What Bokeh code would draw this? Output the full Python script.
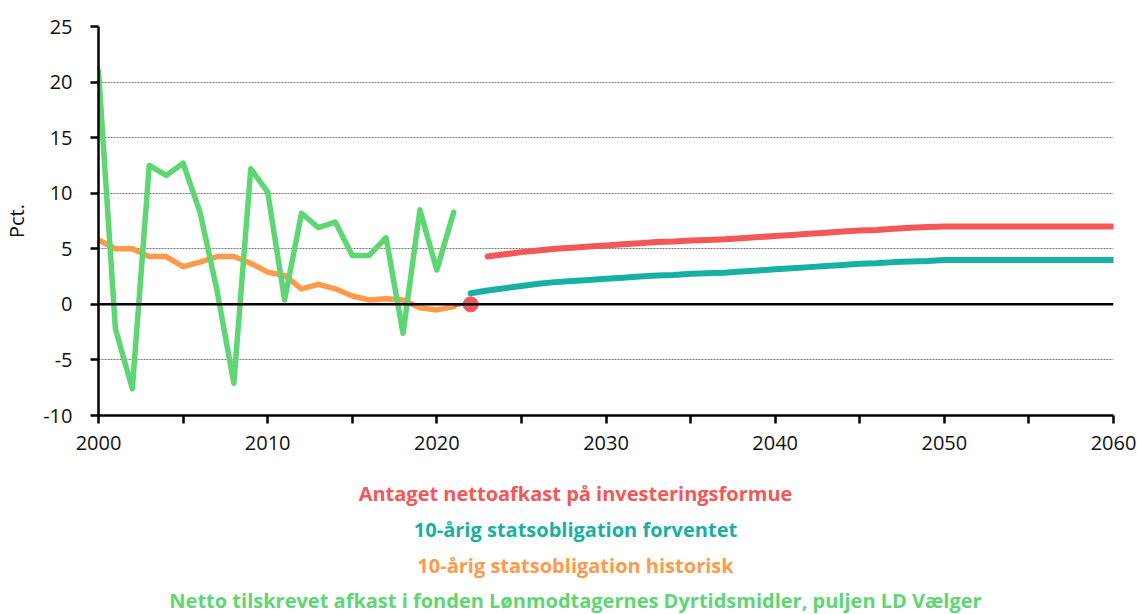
from bokeh.plotting import figure
from bokeh.models import Range1d, FixedTicker, Span
from bokeh.layouts import column
from bokeh.embed import file_html
from bokeh.resources import INLINE
from bokeh.core.properties import value

# ---------------- data ----------------
hist_years = list(range(2000, 2022))
green_vals = [21.0, -2.2, -7.6, 12.5, 11.6, 12.7, 8.3, 1.3, -7.1, 12.2, 10.1,
              0.4, 8.2, 6.9, 7.4, 4.4, 4.4, 6.0, -2.6, 8.5, 3.1, 8.3]
orange_vals = [5.8, 5.0, 5.0, 4.3, 4.3, 3.4, 3.8, 4.3, 4.3, 3.7, 2.9,
               2.6, 1.4, 1.8, 1.4, 0.75, 0.4, 0.5, 0.4, -0.3, -0.5, -0.2]

teal_years = list(range(2022, 2061))
teal_vals = [1.0, 1.25, 1.45, 1.65, 1.85, 2.0, 2.1, 2.2, 2.3, 2.4,
             2.5, 2.6, 2.65, 2.75, 2.8, 2.85, 2.95, 3.05, 3.15, 3.25,
             3.35, 3.45, 3.55, 3.65, 3.7, 3.8, 3.85, 3.9, 4.0, 4.0,
             4.0, 4.0, 4.0, 4.0, 4.0, 4.0, 4.0, 4.0, 4.0]

red_years = list(range(2023, 2061))
red_vals = [4.3, 4.5, 4.7, 4.85, 5.0, 5.1, 5.2, 5.3, 5.4, 5.5,
            5.6, 5.65, 5.75, 5.8, 5.85, 5.95, 6.05, 6.15, 6.25, 6.35,
            6.45, 6.55, 6.65, 6.7, 6.8, 6.9, 6.95, 7.0, 7.0, 7.0,
            7.0, 7.0, 7.0, 7.0, 7.0, 7.0, 7.0, 7.0]

start_year = [2022]
start_val = [0.0]
link_years = [2021, 2022]
link_vals = [-0.2, 0.0]

y_ticks = [-10, -5, 0, 5, 10, 15, 20, 25]
y_tick_labels = ["-10", "-5", "0", "5", "10", "15", "20", "25"]
x_ticks = [2000, 2010, 2020, 2030, 2040, 2050, 2060]
x_minor_ticks = [2005, 2015, 2025, 2035, 2045, 2055]
grid_levels = [-5, 5, 10, 15, 20, 25]

legend_labels = [
    "Antaget nettoafkast på investeringsformue",
    "10-årig statsobligation forventet",
    "10-årig statsobligation historisk",
    "Netto tilskrevet afkast i fonden Lønmodtagernes Dyrtidsmidler, puljen LD Vælger",
]

RED = "#F45757"
TEAL = "#17B0A5"
ORANGE = "#FF9A4B"
GREEN = "#5DD673"
legend_colors = [RED, TEAL, ORANGE, GREEN]

W = 1137
H_MAIN = 460
H_LEG = 154

# ---------------- main chart ----------------
p = figure(width=W, height=H_MAIN, output_backend="svg", toolbar_location=None,
           x_range=Range1d(2000, 2060), y_range=Range1d(-10, 25),
           min_border_left=98, min_border_right=24, min_border_top=26,
           min_border_bottom=45)
p.outline_line_color = None
p.background_fill_color = "white"
p.border_fill_color = "white"

p.xgrid.grid_line_color = None
p.ygrid.ticker = FixedTicker(ticks=grid_levels)
p.ygrid.grid_line_color = "#777777"
p.ygrid.grid_line_dash = "2 1"
p.ygrid.grid_line_width = 1

xa = p.xaxis[0]
xa.ticker = FixedTicker(ticks=x_ticks, minor_ticks=x_minor_ticks)
xa.axis_line_width = 2.5
xa.axis_line_color = "black"
xa.major_tick_line_width = 2.5
xa.minor_tick_line_width = 2.5
xa.major_tick_line_color = "black"
xa.minor_tick_line_color = "black"
xa.major_tick_out = 8
xa.major_tick_in = 0
xa.minor_tick_out = 8
xa.minor_tick_in = 0
xa.major_label_text_font = "Open Sans"
xa.major_label_text_font_size = "20px"
xa.major_label_text_color = "#111111"
xa.major_label_standoff = 12

ya = p.yaxis[0]
ya.ticker = FixedTicker(ticks=y_ticks, minor_ticks=[])
ya.major_label_overrides = {t: s for t, s in zip(y_ticks, y_tick_labels)}
ya.axis_line_width = 2.5
ya.axis_line_color = "black"
ya.major_tick_line_width = 2.5
ya.major_tick_line_color = "black"
ya.major_tick_out = 8
ya.major_tick_in = 0
ya.major_label_text_font = "Open Sans"
ya.major_label_text_font_size = "20px"
ya.major_label_text_color = "#111111"
ya.major_label_standoff = 18
ya.axis_label = "Pct."
ya.axis_label_text_font = "Open Sans"
ya.axis_label_text_font_size = "20px"
ya.axis_label_text_font_style = "normal"
ya.axis_label_text_color = "#111111"
ya.axis_label_standoff = 10

p.add_layout(Span(location=0, dimension="width", line_color="black", line_width=2.5))

p.line(hist_years, orange_vals, line_color=ORANGE, line_width=5.5,
       line_cap="round", line_join="round")
p.line(hist_years, green_vals, line_color=GREEN, line_width=5.5,
       line_cap="round", line_join="round")
p.line(link_years, link_vals, line_color=RED, line_width=1.5)
p.line(teal_years, teal_vals, line_color=TEAL, line_width=6,
       line_cap="round", line_join="round")
p.line(red_years, red_vals, line_color=RED, line_width=6,
       line_cap="round", line_join="round")
p.scatter(start_year, start_val, size=15, fill_color=RED, line_color=RED)

# ---------------- legend (text rows) ----------------
# the column aligns this frame with the main frame (page x 98..1113)
leg = figure(width=W, height=H_LEG, output_backend="svg", toolbar_location=None,
             x_range=Range1d(98, 1113), y_range=Range1d(H_LEG, 0),
             min_border=0, min_border_left=0, min_border_right=0,
             min_border_top=0, min_border_bottom=0)
leg.axis.visible = False
leg.grid.visible = False
leg.outline_line_color = None
row_y = [33, 69, 105, 140]
leg.text(x=[575] * 4, y=row_y, text=legend_labels, text_color=legend_colors,
         text_align="center", text_baseline="middle",
         text_font=value("Open Sans"), text_font_style="bold", text_font_size="20px")

layout = column(p, leg, spacing=0)
open("out.html", "w").write(file_html(layout, INLINE))
